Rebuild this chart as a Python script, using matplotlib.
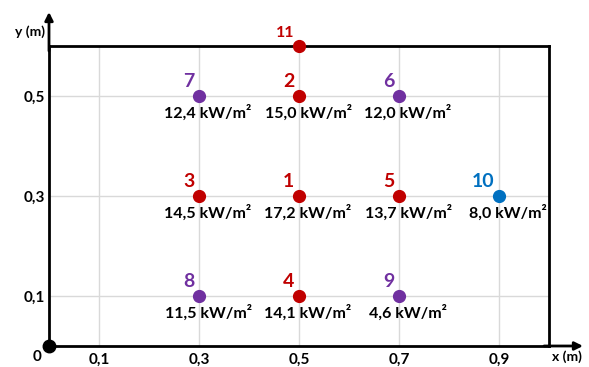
import matplotlib
matplotlib.use('Agg')
import matplotlib.pyplot as plt

# sensor points: id, x (m), y (m), flux (kW/m²), group
ids = ['1', '2', '3', '4', '5', '6', '7', '8', '9', '10', '11']
xs = [0.5, 0.5, 0.3, 0.5, 0.7, 0.7, 0.3, 0.3, 0.7, 0.9, 0.5]
ys = [0.3, 0.5, 0.3, 0.1, 0.3, 0.5, 0.5, 0.1, 0.1, 0.3, 0.6]
flux = ['17,2', '15,0', '14,5', '14,1', '13,7', '12,0', '12,4', '11,5', '4,6', '8,0', None]
groups = ['r', 'r', 'r', 'r', 'r', 'p', 'p', 'p', 'p', 'b', 'r']

x_ticks = [0.1, 0.3, 0.5, 0.7, 0.9]
y_ticks = [0.1, 0.3, 0.5]

colors = {'r': '#C00000', 'p': '#7030A0', 'b': '#0070C0'}

plt.rcParams['font.family'] = ['Lato', 'DejaVu Sans']
plt.rcParams['font.weight'] = 'bold'

fig = plt.figure(figsize=(5.89, 3.67), dpi=100)
ax = fig.add_axes([49 / 589, 21 / 367, 500 / 589, 300 / 367])
ax.set_xlim(0, 1.0)
ax.set_ylim(0, 0.6)

ax.set_xticks(x_ticks)
ax.set_yticks(y_ticks)
ax.set_xticklabels([f'{v:.1f}'.replace('.', ',') for v in x_ticks], fontsize=11, fontweight='bold')
ax.set_yticklabels([f'{v:.1f}'.replace('.', ',') for v in y_ticks], fontsize=11, fontweight='bold')
ax.tick_params(axis='y', length=0, pad=3)
ax.tick_params(axis='x', length=0, pad=5)
ax.grid(True, color='#d9d9d9', lw=1)
ax.set_axisbelow(True)
for s in ax.spines.values():
    s.set_linewidth(2)
    s.set_color('black')

# axis arrows
ax.annotate('', xy=(0, 0.668), xytext=(0, 0.59), xycoords='data',
            arrowprops=dict(arrowstyle='-|>', lw=2, color='black', mutation_scale=12,
                            shrinkA=0, shrinkB=0), annotation_clip=False)
ax.annotate('', xy=(1.068, 0), xytext=(0.99, 0), xycoords='data',
            arrowprops=dict(arrowstyle='-|>', lw=2, color='black', mutation_scale=12,
                            shrinkA=0, shrinkB=0), annotation_clip=False)
ax.text(-0.008, 0.628, 'y (m)', ha='right', va='center', fontsize=10, fontweight='bold', clip_on=False)
ax.text(1.035, -0.022, 'x (m)', ha='center', va='center', fontsize=10, fontweight='bold', clip_on=False)
ax.text(-0.024, -0.022, '0', ha='center', va='center', fontsize=11, fontweight='bold', clip_on=False)
ax.plot([0], [0], 'o', color='black', markersize=9, clip_on=False, zorder=5)

for i, x in enumerate(xs):
    c = colors[groups[i]]
    ax.plot(x, ys[i], 'o', color=c, markersize=8.5, clip_on=False, zorder=5)
    size = 11.5 if ids[i] == '11' else 14
    ax.annotate(ids[i], (x, ys[i]), xytext=(-3.5, 4.5), textcoords='offset points',
                ha='right', va='bottom', fontsize=size, fontweight='bold', color=c,
                annotation_clip=False)
    if flux[i] is not None:
        ax.annotate(flux[i] + ' kW/m²', (x, ys[i]), xytext=(6.5, -6.5), textcoords='offset points',
                    ha='center', va='top', fontsize=11.5, fontweight='bold', color='black',
                    annotation_clip=False)

plt.savefig('out.png', dpi=100)
